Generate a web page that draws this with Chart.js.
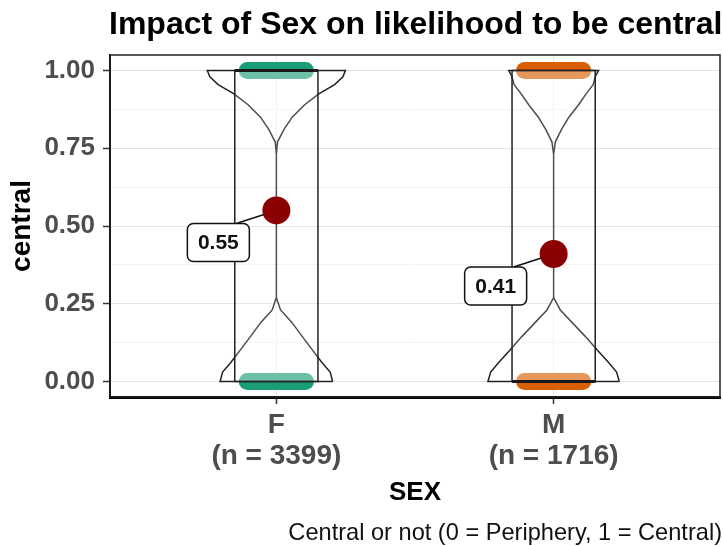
<!DOCTYPE html>
<html>
<head>
<meta charset="utf-8">
<script src="https://cdn.jsdelivr.net/npm/chart.js@4.4.1/dist/chart.umd.min.js"></script>
<style>
  html, body { margin: 0; padding: 0; background: #fff; }
  #wrap { width: 723px; height: 546px; }
</style>
</head>
<body>
<div id="wrap"><canvas id="myChart" width="723" height="546"></canvas></div>
<script>
// data
const categories = ['F', 'M'];
const groupSizes = [3399, 1716];
const means = [0.55, 0.41];
const quartile1 = [0, 0];
const medians = [1, 0];
const quartile3 = [1, 1];
const outcomeValues = [0, 1];   // binary: every observation sits on 0 or 1
const yTickValues = [0, 0.25, 0.5, 0.75, 1];
// violin half widths (x units) at these levels
const violinLevels = [0, 0.03, 0.06, 0.10, 0.145, 0.19, 0.23, 0.27, 0.73, 0.77, 0.81, 0.85, 0.89, 0.925, 0.955, 0.98, 1];
const violinF = [0.203, 0.194, 0.165, 0.131, 0.093, 0.056, 0.015, 0, 0, 0.004, 0.027, 0.057, 0.102, 0.153, 0.21, 0.24, 0.249];
const violinM = [0.237, 0.227, 0.199, 0.158, 0.114, 0.066, 0.024, 0, 0, 0.006, 0.028, 0.055, 0.09, 0.117, 0.143, 0.15, 0.162];
const violinWidths = [violinF, violinM];

const groupColors = ['#1B9E77', '#D95F02'];
const boxHalf = 0.15;
const jitterSpread = 0.105;
const fontFamily = '"Liberation Sans", Arial, sans-serif';

Chart.defaults.font.family = fontFamily;

function isMajor(v) {
    return Math.abs(v * 4 - Math.round(v * 4)) < 1e-9;
}

const datasets = [];

// mean points (on top)
datasets.push({
    data: means.map((m, i) => ({ x: i + 1, y: m })),
    pointRadius: 14,
    backgroundColor: '#8B0000',
    borderColor: '#8B0000',
    borderWidth: 0,
    showLine: false
});

// medians
categories.forEach((c, i) => {
    datasets.push({
        data: [{ x: i + 1 - boxHalf, y: medians[i] }, { x: i + 1 + boxHalf, y: medians[i] }],
        showLine: true,
        borderColor: '#1a1a1a',
        borderWidth: 3,
        pointRadius: 0
    });
});

// boxes
categories.forEach((c, i) => {
    const x = i + 1;
    datasets.push({
        data: [
            { x: x - boxHalf, y: quartile1[i] }, { x: x + boxHalf, y: quartile1[i] },
            { x: x + boxHalf, y: quartile3[i] }, { x: x - boxHalf, y: quartile3[i] },
            { x: x - boxHalf, y: quartile1[i] }
        ],
        showLine: true,
        fill: 'shape',
        backgroundColor: 'rgba(255,255,255,0.2)',
        borderColor: '#222',
        borderWidth: 1.5,
        pointRadius: 0
    });
});

// violins
categories.forEach((c, i) => {
    const x = i + 1;
    const w = violinWidths[i];
    const right = violinLevels.map((y, k) => ({ x: x + w[k], y: y }));
    const left = violinLevels.map((y, k) => ({ x: x - w[k], y: y })).reverse();
    const pts = right.concat(left);
    pts.push(right[0]);
    datasets.push({
        data: pts,
        showLine: true,
        fill: 'shape',
        backgroundColor: 'rgba(255,255,255,0.2)',
        borderColor: '#222',
        borderWidth: 1.5,
        pointRadius: 0,
        tension: 0
    });
});

// jittered raw points, drawn as bands
categories.forEach((c, i) => {
    outcomeValues.forEach(v => {
        datasets.push({
            data: [{ x: i + 1 - jitterSpread, y: v }, { x: i + 1 + jitterSpread, y: v }],
            showLine: true,
            borderColor: groupColors[i],
            borderWidth: 17,
            borderCapStyle: 'round',
            pointRadius: 0
        });
    });
});

const decorPlugin = {
    id: 'decor',
    beforeDraw(chart) {
        const ctx = chart.ctx;
        ctx.save();
        ctx.fillStyle = '#fff';
        ctx.fillRect(0, 0, chart.width, chart.height);
        ctx.restore();
    },
    afterDatasetsDraw(chart) {
        const ctx = chart.ctx;
        const xs = chart.scales.x, ys = chart.scales.y;
        const a = chart.chartArea;
        ctx.save();
        // panel border
        ctx.strokeStyle = '#222';
        ctx.lineWidth = 1.5;
        ctx.strokeRect(a.left, a.top, a.right - a.left, a.bottom - a.top);

        // mean labels
        means.forEach((m, i) => {
            const px = xs.getPixelForValue(i + 1);
            const py = ys.getPixelForValue(m);
            const cx = px - 58, cy = py + 32;
            const bw = 62, bh = 38;
            const sx = cx + 18, sy = cy - bh / 2;
            const dx = px - sx, dy = py - sy;
            const d = Math.sqrt(dx * dx + dy * dy);
            ctx.strokeStyle = '#111';
            ctx.lineWidth = 1.5;
            ctx.beginPath();
            ctx.moveTo(sx, sy);
            ctx.lineTo(px - dx / d * 13, py - dy / d * 13);
            ctx.stroke();
            ctx.beginPath();
            ctx.roundRect(cx - bw / 2, cy - bh / 2, bw, bh, 6);
            ctx.fillStyle = '#fff';
            ctx.fill();
            ctx.stroke();
            ctx.fillStyle = '#111';
            ctx.font = 'bold 21px ' + fontFamily;
            ctx.textAlign = 'center';
            ctx.textBaseline = 'middle';
            ctx.fillText(m.toFixed(2), cx, cy + 1);
        });
        ctx.restore();
    },
    afterDraw(chart) {
        const ctx = chart.ctx;
        ctx.save();
        ctx.fillStyle = '#000';
        ctx.textBaseline = 'alphabetic';
        ctx.font = 'bold 32px ' + fontFamily;
        ctx.textAlign = 'left';
        ctx.fillText('Impact of Sex on likelihood to be central', 109, 34);
        ctx.font = '23.6px ' + fontFamily;
        ctx.textAlign = 'right';
        ctx.fillStyle = '#111';
        ctx.fillText('Central or not (0 = Periphery, 1 = Central)', 722, 540);
        ctx.restore();
    }
};

const config = {
    type: 'scatter',
    data: { datasets: datasets },
    options: {
        responsive: false,
        animation: false,
        events: [],
        layout: { autoPadding: false, padding: { top: 55, right: 3, bottom: 0, left: 0 } },
        plugins: {
            legend: { display: false },
            tooltip: { enabled: false },
            title: { display: false }
        },
        scales: {
            x: {
                type: 'linear',
                min: 0.4,
                max: 2.6,
                afterBuildTicks(scale) {
                    scale.ticks = categories.map((c, i) => ({ value: i + 1 }));
                },
                afterFit(scale) {
                    scale.height = 149;
                },
                ticks: {
                    autoSkip: false,
                    maxRotation: 0,
                    padding: 6,
                    color: '#4D4D4D',
                    font: { size: 28, weight: 'bold', lineHeight: 1.1 },
                    callback: (v) => {
                        const i = Math.round(v) - 1;
                        return [categories[i], '(n = ' + groupSizes[i] + ')'];
                    }
                },
                grid: {
                    color: '#EBEBEB',
                    lineWidth: 1,
                    tickLength: 7,
                    tickColor: '#333',
                    tickWidth: 1.5
                },
                border: { display: true, color: '#000', width: 3 },
                title: {
                    display: true,
                    text: 'SEX',
                    color: '#000',
                    font: { size: 26, weight: 'bold' },
                    padding: { top: 0, bottom: 38 }
                }
            },
            y: {
                type: 'linear',
                min: -0.05,
                max: 1.05,
                afterBuildTicks(scale) {
                    const t = [];
                    for (let k = 0; k <= 8; k++) t.push({ value: k * 0.125 });
                    scale.ticks = t;
                },
                afterFit(scale) {
                    scale.width = 110;
                },
                ticks: {
                    padding: 8,
                    color: '#4D4D4D',
                    font: { size: 26, weight: 'bold' },
                    callback: (v) => yTickValues.some(t => Math.abs(t - v) < 1e-9) ? v.toFixed(2) : ''
                },
                grid: {
                    color: (c) => isMajor(c.tick.value) ? '#E3E3E3' : '#F2F2F2',
                    lineWidth: 1,
                    tickLength: 7,
                    tickColor: (c) => isMajor(c.tick.value) ? '#333' : 'rgba(0,0,0,0)',
                    tickWidth: 1.5
                },
                border: { display: true, color: '#000', width: 2 },
                title: {
                    display: true,
                    text: 'central',
                    color: '#000',
                    font: { size: 28, weight: 'bold' },
                    padding: { top: 5, bottom: 0 }
                }
            }
        }
    },
    plugins: [decorPlugin]
};

window.onload = function () {
    new Chart(document.getElementById('myChart'), config);
};
</script>
</body>
</html>
